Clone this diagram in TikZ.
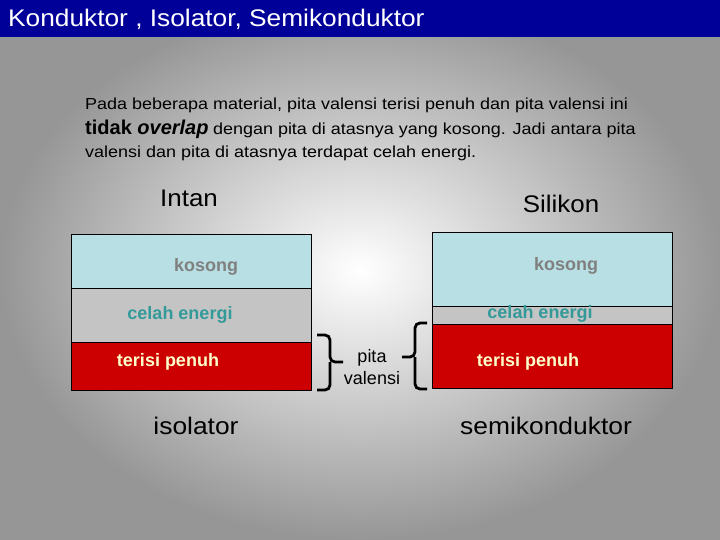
\documentclass[tikz,border=0pt]{standalone}
\usepackage{fontspec}
\setmainfont{Liberation Sans}
\definecolor{titleblue}{RGB}{0,0,153}
\definecolor{bgedge}{RGB}{150,150,150}
\definecolor{emptyband}{RGB}{184,224,228}
\definecolor{gapband}{RGB}{196,196,196}
\definecolor{fullband}{RGB}{204,0,0}
\definecolor{kosongtxt}{RGB}{128,128,128}
\definecolor{celahtxt}{RGB}{51,153,153}
\definecolor{penuhtxt}{RGB}{255,255,204}
\newcommand{\wide}[2]{\scalebox{#1}[1]{#2}}
\tikzset{
  band/.style={draw=black, line width=0.8pt, anchor=north west, inner sep=0pt, outer sep=0pt},
  bandlbl/.style={font=\fontsize{18}{20}\selectfont\bfseries, inner sep=0pt},
  bigtxt/.style={font=\fontsize{24}{26}\selectfont, inner sep=0pt, anchor=base},
  paratxt/.style={font=\fontsize{16}{19}\selectfont, inner sep=0pt, anchor=base west},
  bracestyle/.style={line width=2.8pt, rounded corners=5pt}
}
\begin{document}
\begin{tikzpicture}[x=1pt,y=-1pt]
\useasboundingbox (0,0) rectangle (720,540);
\shade[inner color=white, outer color=bgedge] (0,0) rectangle (720,540);
\fill[titleblue] (0,0) rectangle (720,37);
\node[anchor=base west, text=white, inner sep=0pt, font=\fontsize{24}{26}\selectfont] (title) at (8,27) {\wide{1.095}{Konduktor , Isolator, Semikonduktor}};

\node[paratxt] (p1) at (85,110) {\wide{1.124}{Pada beberapa material, pita valensi terisi penuh dan pita valensi ini}};
\node[paratxt] (p2) at (85,135) {{\fontsize{20}{22}\selectfont\bfseries tidak \itshape overlap} \wide{1.124}{dengan pita di atasnya yang kosong. Jadi antara pita}};
\node[paratxt] (p3) at (85,158) {\wide{1.124}{valensi dan pita di atasnya terdapat celah energi.}};

\node[bigtxt] (intan) at (189,207) {\wide{1.08}{Intan}};
\node[bigtxt] (silikon) at (561,212) {\wide{1.08}{Silikon}};

% Intan bands
\node[band, fill=emptyband, minimum width=240pt, minimum height=54pt] (ik) at (71,234) {};
\node[band, fill=gapband, minimum width=240pt, minimum height=54pt] (ic) at (71,288) {};
\node[band, fill=fullband, minimum width=240pt, minimum height=48pt] (ip) at (71,342) {};
\node[bandlbl, text=kosongtxt] (ikl) at (206,267) {kosong};
\node[bandlbl, text=celahtxt] (icl) at (180,315) {celah energi};
\node[bandlbl, text=penuhtxt] (ipl) at (168,362) {terisi penuh};

% Silikon bands
\node[band, fill=emptyband, minimum width=240pt, minimum height=74pt] (sk) at (432,232) {};
\node[band, fill=gapband, minimum width=240pt, minimum height=18pt] (sc) at (432,306) {};
\node[band, fill=fullband, minimum width=240pt, minimum height=64pt] (sp) at (432,324) {};
\node[bandlbl, text=kosongtxt] (skl) at (566,266) {kosong};
\node[bandlbl, text=celahtxt] (scl) at (540,314) {celah energi};
\node[bandlbl, text=penuhtxt] (spl) at (528,362) {terisi penuh};

% braces
\coordinate (lbt) at (317,335);
\coordinate (lbb) at (317,390);
\coordinate (lbm) at (330,362);
\coordinate (lbtip) at (343,362);
\draw[bracestyle] (lbt) -| (lbm) -- (lbtip);
\draw[bracestyle] (lbb) -| (lbm);
\coordinate (rbt) at (427,323);
\coordinate (rbb) at (427,389);
\coordinate (rbm) at (415,357);
\coordinate (rbtip) at (402,357);
\draw[bracestyle] (rbt) -| (rbm) -- (rbtip);
\draw[bracestyle] (rbb) -| (rbm);
\node[align=center, font=\fontsize{18}{22}\selectfont, inner sep=0pt] (pv) at (372,367) {pita\\valensi};

\node[bigtxt] (iso) at (196,434) {\wide{1.1}{isolator}};
\node[bigtxt] (semi) at (546,434) {\wide{1.1}{semikonduktor}};
\end{tikzpicture}
\end{document}
